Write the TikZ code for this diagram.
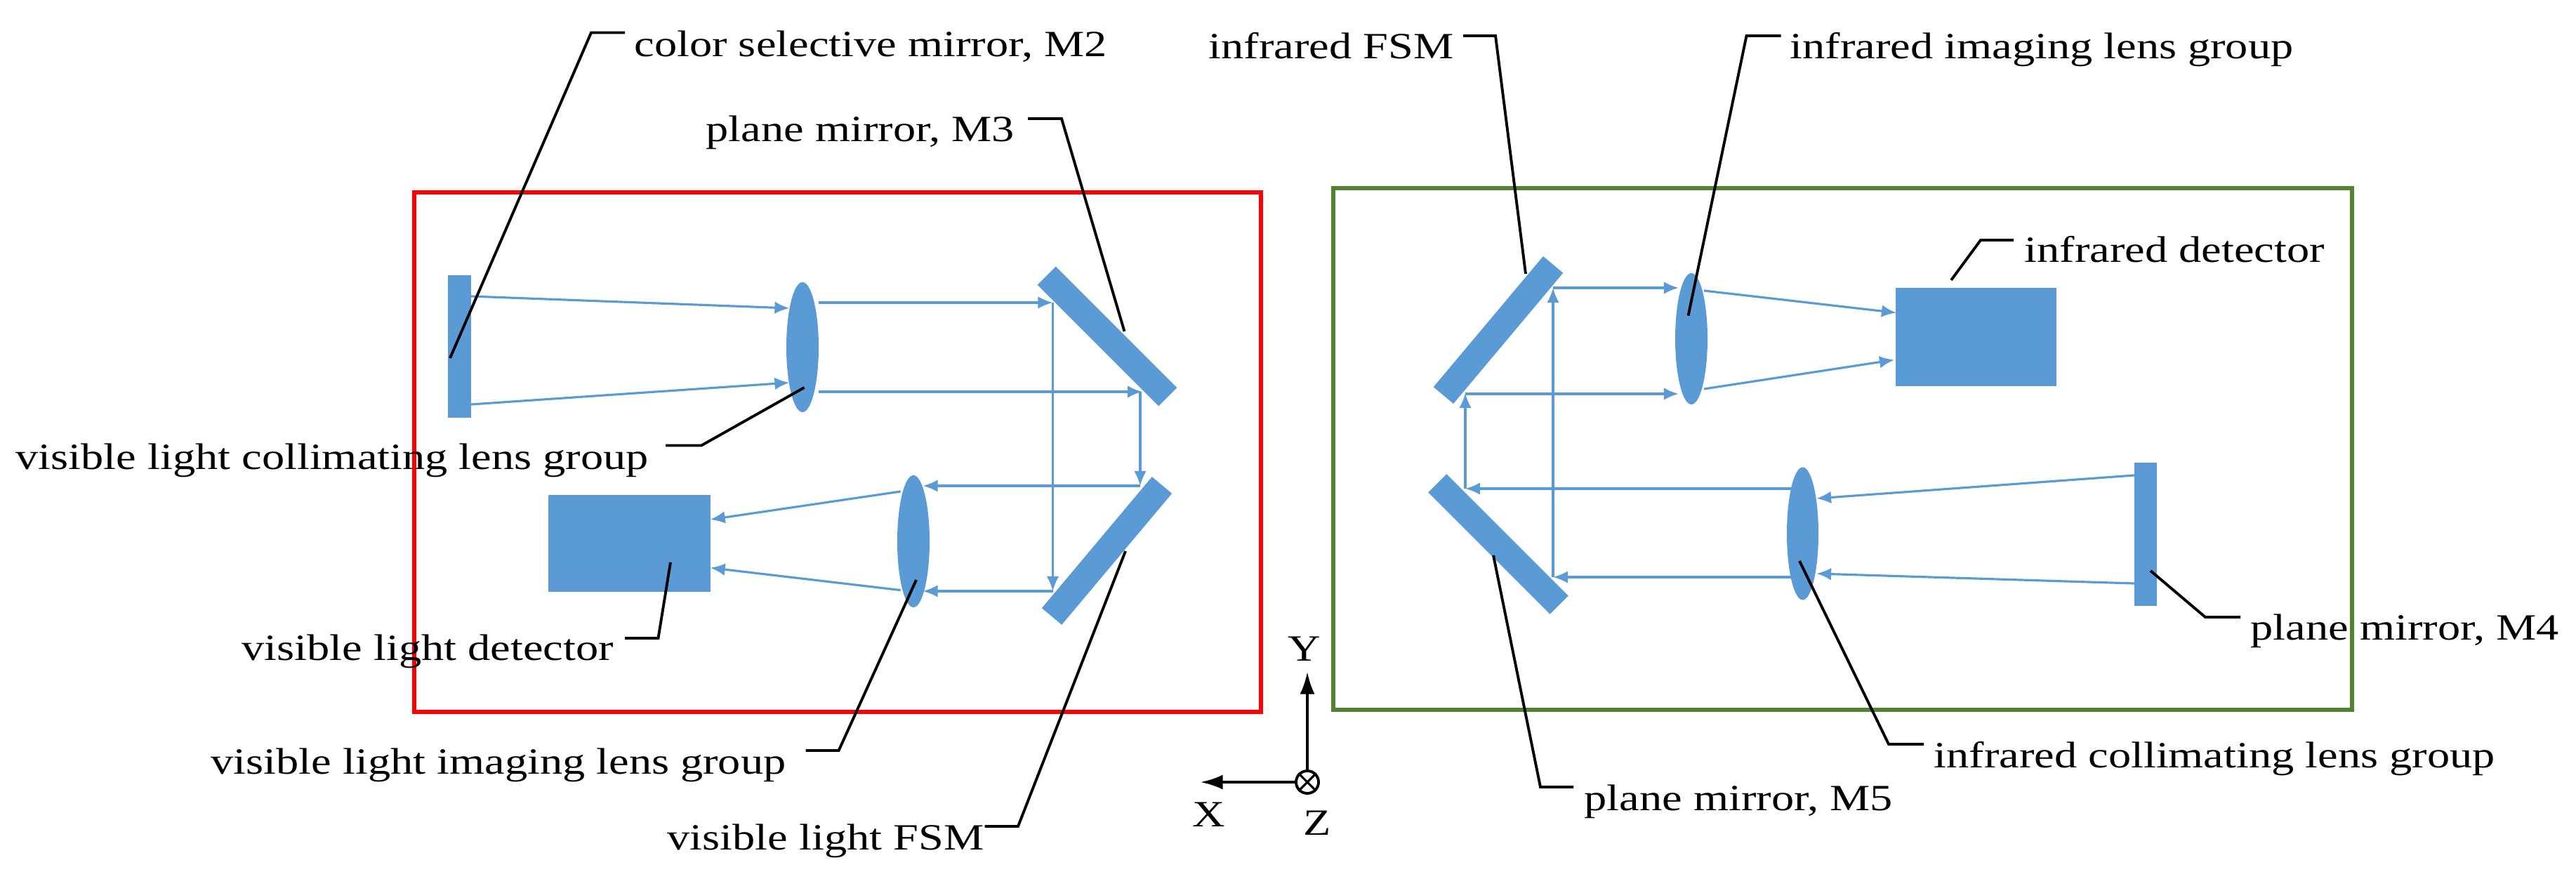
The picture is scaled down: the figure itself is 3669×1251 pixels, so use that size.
\documentclass[tikz,border=0pt]{standalone}
\usepackage{fontspec}
\setmainfont{Liberation Serif}[FakeStretch=1.22]
\usetikzlibrary{shapes.geometric,arrows.meta,positioning}
\definecolor{optblue}{HTML}{5B9BD5}
\definecolor{boxgreen}{HTML}{548235}

\begin{document}
\begin{tikzpicture}[x=0.01cm,y=-0.01cm,
                    >={Latex[length=6pt,width=5pt]},
                    part/.style={fill=optblue,draw=none,inner sep=0pt,minimum width=#1},
                    lens/.style={ellipse,fill=optblue,inner sep=0pt,minimum width=0.46cm},
                    ray/.style={optblue,line width=0.9pt,->},
                    lead/.style={black,line width=1.1pt},
                    lab/.style={anchor=base west,inner sep=0pt,font=\fontsize{15}{18}\selectfont}]

                \useasboundingbox (0,0) rectangle (3669,1251);

                % boxes
                \draw[red,line width=1.7pt] (590,274) rectangle (1796,1014);
                \draw[boxgreen,line width=1.7pt] (1899,268) rectangle (3350,1011);

                % visible light channel
                \node[part=0.33cm,minimum height=2.03cm] (M2) at (654.5,493.5) {};
                \node[lens,minimum height=1.85cm] (L1) at (1143,494.5) {};
                \node[part=2.44cm,minimum height=0.37cm,rotate=-45] (M3) at (1577,479) {};
                \node[part=2.44cm,minimum height=0.37cm,rotate=50] (FSMv) at (1576.5,784.5) {};
                \node[lens,minimum height=1.88cm] (L2) at (1301,771) {};
                \node[part=2.31cm,minimum height=1.38cm] (Dv) at (896.5,774) {};

                \draw[ray] (671,422) -- (1124.5,439);
                \draw[ray] (671,576) -- (1124.5,545);
                \draw[ray] (1166,431) -- (1499.5,431);
                \draw[ray] (1166,558) -- (1627,558);
                \draw[ray] (1499.5,431) -- (1499.5,842);
                \draw[ray] (1624,558) -- (1624,692);
                \draw[ray] (1624,692) -- (1314.5,692);
                \draw[ray] (1499.5,842) -- (1314.5,842);
                \draw[ray] (1282.7,700) -- (1011.6,740);
                \draw[ray] (1282.7,840.6) -- (1011.6,808.7);

                % infrared channel
                \node[part=2.43cm,minimum height=0.37cm,rotate=50] (FSMi) at (2134,470) {};
                \node[part=2.45cm,minimum height=0.37cm,rotate=-45] (M5) at (2134,775) {};
                \node[lens,minimum height=1.87cm] (L3) at (2409,482.5) {};
                \node[lens,minimum height=1.89cm,minimum width=0.45cm] (L4) at (2567.5,760) {};
                \node[part=2.29cm,minimum height=1.40cm] (Di) at (2814.5,480) {};
                \node[part=0.32cm,minimum height=2.04cm] (M4) at (3056,761) {};

                \draw[ray] (3040,677) -- (2587,710);
                \draw[ray] (3040,831) -- (2587,817);
                \draw[ray] (2551.5,696) -- (2087,696);
                \draw[ray] (2551,822) -- (2212,822);
                \draw[ray] (2212,822) -- (2212,410);
                \draw[ray] (2087,696) -- (2087,560);
                \draw[ray] (2212,410) -- (2391,410);
                \draw[ray] (2087,561) -- (2391,561);
                \draw[ray] (2427,414) -- (2701,445.5);
                \draw[ray] (2427,554) -- (2698,512.5);

                % labels
                \node[lab] (tM2) at (903,80) {color selective mirror, M2};
                \draw[lead] (641,510) -- (842,46.5) -- (890,46.5);
                \node[lab] (tM3) at (1005,201) {plane mirror, M3};
                \draw[lead] (1464,169) -- (1512,169) -- (1601.5,472);
                \node[lab] (tL1) at (22,668.5) {visible light collimating lens group};
                \draw[lead] (1145.5,552) -- (999,634.5) -- (948,634.5);
                \node[lab] (tDv) at (344,940) {visible light detector};
                \draw[lead] (955,801) -- (937.5,909) -- (890,909);
                \node[lab] (tL2) at (300,1102) {visible light imaging lens group};
                \draw[lead] (1305,826) -- (1194.6,1069) -- (1147.5,1069);
                \node[lab] (tFv) at (950,1210) {visible light FSM};
                \draw[lead] (1603,785) -- (1450,1177) -- (1402.5,1177);

                \node[lab,anchor=base east] (tFi) at (2071,83) {infrared FSM};
                \draw[lead] (2084,51) -- (2130,51) -- (2173,390);
                \node[lab] (tL3) at (2549,83) {infrared imaging lens group};
                \draw[lead] (2404.6,449.6) -- (2487.5,51) -- (2536.6,51);
                \node[lab] (tDi) at (2883,373) {infrared detector};
                \draw[lead] (2779,399) -- (2821,342) -- (2868,342);
                \node[lab] (tM5) at (2256,1154) {plane mirror, M5};
                \draw[lead] (2127,791) -- (2194,1121) -- (2241,1121);
                \node[lab] (tL4) at (2754,1093) {infrared collimating lens group};
                \draw[lead] (2563,799) -- (2690,1060) -- (2740,1060);
                \node[lab] (tM4) at (3205,911) {plane mirror, M4};
                \draw[lead] (3063,813) -- (3141,879) -- (3191,879);

                % axes
                \node[circle,draw,line width=1.1pt,minimum size=0.32cm,inner sep=0pt] (O) at (1862,1114) {};
                \draw[line width=0.9pt] (O.north west) -- (O.south east) (O.north east) -- (O.south west);
                \coordinate (Yt) at (1862,957);
                \coordinate (Xt) at (1710,1114);
                \draw[lead,-{Latex[length=9pt,width=6pt]}] (O) -- (Yt);
                \draw[lead,-{Latex[length=9pt,width=6pt]}] (O) -- (Xt);
                \node[font=\fontsize{15}{18}\selectfont] (lY) at (1858,924) {Y};
                \node[font=\fontsize{15}{18}\selectfont] (lX) at (1722,1160) {X};
                \node[font=\fontsize{15}{18}\selectfont] (lZ) at (1876,1172) {Z};

            \end{tikzpicture}
\end{document}
